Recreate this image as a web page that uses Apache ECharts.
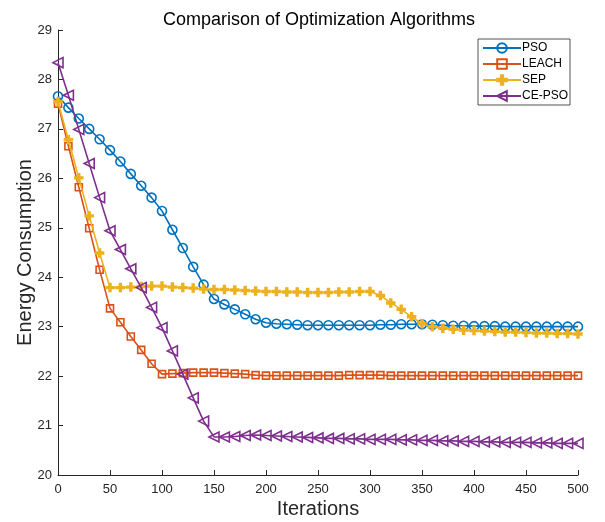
<!DOCTYPE html>
<html>
<head>
<meta charset="utf-8">
<script src="https://cdn.jsdelivr.net/npm/echarts@6/dist/echarts.min.js"></script>
<style>
html,body{margin:0;padding:0;background:#fff;}
#chart{width:605px;height:522px;}
</style>
</head>
<body>
<div id="chart"></div>
<script>
const iterations = [0,10,20,30,40,50,60,70,80,90,100,110,120,130,140,150,160,170,180,190,200,210,220,230,240,250,260,270,280,290,300,310,320,330,340,350,360,370,380,390,400,410,420,430,440,450,460,470,480,490,500];
const seriesNames = ['PSO','LEACH','SEP','CE-PSO'];
const psoValues = [27.66,27.43,27.21,27.00,26.79,26.57,26.34,26.09,25.85,25.61,25.34,24.96,24.59,24.21,23.85,23.56,23.45,23.35,23.25,23.15,23.08,23.06,23.05,23.04,23.03,23.03,23.03,23.03,23.03,23.03,23.03,23.04,23.04,23.05,23.05,23.05,23.04,23.03,23.02,23.02,23.01,23.01,23.01,23.00,23.00,23.00,23.00,23.00,23.00,23.00,23.00];
const leachValues = [27.51,26.65,25.82,24.99,24.15,23.37,23.09,22.80,22.53,22.25,22.04,22.05,22.06,22.07,22.07,22.07,22.06,22.05,22.04,22.02,22.01,22.01,22.01,22.01,22.01,22.01,22.01,22.01,22.02,22.02,22.02,22.02,22.01,22.01,22.01,22.01,22.01,22.01,22.01,22.01,22.01,22.01,22.01,22.01,22.01,22.01,22.01,22.01,22.01,22.01,22.01];
const sepValues = [27.55,26.78,26.01,25.24,24.49,23.79,23.79,23.80,23.81,23.82,23.82,23.80,23.79,23.78,23.76,23.75,23.75,23.74,23.73,23.72,23.71,23.71,23.70,23.70,23.69,23.69,23.69,23.70,23.70,23.71,23.71,23.63,23.48,23.35,23.20,23.06,23.00,22.97,22.95,22.93,22.92,22.91,22.90,22.89,22.89,22.88,22.87,22.87,22.86,22.86,22.85];
const cepsoValues = [28.34,27.68,26.99,26.30,25.61,24.94,24.56,24.17,23.79,23.39,22.98,22.51,22.04,21.56,21.09,20.77,20.77,20.78,20.80,20.81,20.80,20.79,20.78,20.77,20.76,20.75,20.74,20.74,20.73,20.73,20.72,20.72,20.72,20.71,20.71,20.70,20.70,20.69,20.69,20.68,20.68,20.67,20.67,20.66,20.66,20.66,20.65,20.65,20.64,20.64,20.64];
const xTicks = [0,50,100,150,200,250,300,350,400,450,500];
const yTicks = [20,21,22,23,24,25,26,27,28,29];

const FONT = "'Liberation Sans', Arial, Helvetica, sans-serif";
const colors = ['#0072BD','#D95319','#EDB120','#7E2F8E'];
const leftTri = 'path://M0,5 L10,0 L10,10 Z';
const asterisk = 'path://M3.8,0 L6.2,0 L6.2,3.8 L10,3.8 L10,6.2 L6.2,6.2 L6.2,10 L3.8,10 L3.8,6.2 L0,6.2 L0,3.8 L3.8,3.8 Z';

function pairs(vals){ return iterations.map((x,i)=>[x, vals[i]]); }

const valueSets = [psoValues, leachValues, sepValues, cepsoValues];
const symbols = ['circle','rect',asterisk,leftTri];
const sizes = [9,7,8,10];
const series = seriesNames.map((name,i)=>{
  const filled = (i===2);
  return {
    name: name,
    type: 'line',
    data: pairs(valueSets[i]),
    symbol: symbols[i],
    symbolSize: sizes[i],
    showAllSymbol: true,
    lineStyle: {color: colors[i], width: 1.6},
    itemStyle: {
      color: filled ? colors[i] : 'rgba(255,255,255,0)',
      borderColor: colors[i],
      borderWidth: filled ? 1.5 : 1.6
    },
    emphasis: {disabled: true},
    animation: false,
    z: 2 + i
  };
});

const chart = echarts.init(document.getElementById('chart'), null, {renderer:'canvas'});
chart.setOption({
  backgroundColor: '#fff',
  animation: false,
  color: colors,
  title: {
    text: 'Comparison of Optimization Algorithms',
    left: 314,
    textAlign: 'center',
    top: 6,
    textStyle: {fontFamily: FONT, fontSize: 18, fontWeight: 'normal', color: '#000'}
  },
  legend: {
    orient: 'vertical',
    left: 478,
    top: 39,
    data: seriesNames,
    itemWidth: 38,
    itemHeight: 12,
    itemGap: 4,
    padding: [3, 2, 3, 4],
    borderColor: '#262626',
    borderWidth: 0.8,
    backgroundColor: '#fff',
    textStyle: {fontFamily: FONT, fontSize: 12, color: '#000', padding: [0,0,0,-4]}
  },
  grid: {left: 58, right: 27, top: 30, bottom: 47, outerBoundsMode: 'none', containLabel: false},
  xAxis: {
    type: 'value',
    min: 0, max: 500, interval: 50,
    name: 'Iterations',
    nameLocation: 'middle',
    nameGap: 24,
    nameMoveOverlap: false,
    nameTextStyle: {fontFamily: FONT, fontSize: 20, color: '#262626'},
    axisLine: {show: true, lineStyle: {color: '#262626', width: 1}},
    axisTick: {show: true, inside: true, length: 5, lineStyle: {color: '#262626'}},
    axisLabel: {fontFamily: FONT, fontSize: 13, color: '#262626', margin: 8,
      formatter: v => xTicks.includes(v) ? String(v) : ''},
    splitLine: {show: false}
  },
  yAxis: {
    type: 'value',
    min: 20, max: 29, interval: 1,
    name: 'Energy Consumption',
    nameLocation: 'middle',
    nameGap: 23,
    nameMoveOverlap: false,
    nameRotate: 90,
    nameTextStyle: {fontFamily: FONT, fontSize: 20, color: '#262626'},
    axisLine: {show: true, lineStyle: {color: '#262626', width: 1}},
    axisTick: {show: true, inside: true, length: 5, lineStyle: {color: '#262626'}},
    axisLabel: {fontFamily: FONT, fontSize: 13, color: '#262626', margin: 6,
      formatter: v => yTicks.includes(v) ? String(v) : ''},
    splitLine: {show: false}
  },
  series: series
});
</script>
</body>
</html>
